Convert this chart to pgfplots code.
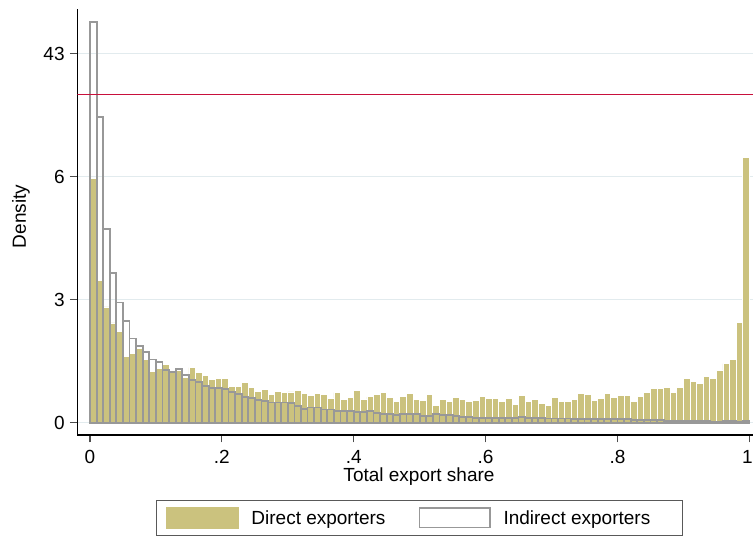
\documentclass[border=0pt]{standalone}
\usepackage{fontspec}
\setmainfont{Liberation Sans}
\usepackage{pgfplots}
\usepackage{pgfplotstable}
\pgfplotsset{compat=1.18}
\definecolor{direct}{RGB}{203,194,126}
\definecolor{indirect}{RGB}{152,152,152}
\definecolor{redline}{RGB}{200,16,60}
\definecolor{gridc}{RGB}{226,235,238}
% bins of width 0.01; values above 8 are on a compressed scale (tick 9 = 43)
\pgfplotstableread{
x d i
0.00 5.96 9.77
0.01 3.46 7.45
0.02 2.82 4.72
0.03 2.43 3.64
0.04 2.23 2.93
0.05 1.61 2.47
0.06 1.68 2.05
0.07 1.80 1.86
0.08 1.55 1.73
0.09 1.24 1.54
0.10 1.33 1.47
0.11 1.41 1.29
0.12 1.23 1.23
0.13 1.27 1.30
0.14 1.10 1.17
0.15 1.34 1.04
0.16 1.22 0.99
0.17 1.14 0.89
0.18 1.05 0.84
0.19 1.07 0.84
0.20 1.07 0.82
0.21 0.88 0.74
0.22 0.88 0.69
0.23 0.97 0.63
0.24 0.85 0.60
0.25 0.76 0.56
0.26 0.80 0.52
0.27 0.68 0.49
0.28 0.76 0.49
0.29 0.73 0.49
0.30 0.75 0.48
0.31 0.78 0.40
0.32 0.71 0.33
0.33 0.66 0.37
0.34 0.71 0.37
0.35 0.68 0.32
0.36 0.58 0.32
0.37 0.73 0.28
0.38 0.56 0.28
0.39 0.61 0.28
0.40 0.78 0.26
0.41 0.56 0.26
0.42 0.63 0.28
0.43 0.68 0.24
0.44 0.73 0.21
0.45 0.61 0.21
0.46 0.51 0.19
0.47 0.63 0.22
0.48 0.71 0.22
0.49 0.56 0.22
0.50 0.54 0.17
0.51 0.68 0.17
0.52 0.41 0.21
0.53 0.56 0.19
0.54 0.51 0.19
0.55 0.61 0.17
0.56 0.56 0.14
0.57 0.51 0.13
0.58 0.54 0.12
0.59 0.63 0.12
0.60 0.58 0.12
0.61 0.58 0.12
0.62 0.51 0.12
0.63 0.58 0.11
0.64 0.44 0.11
0.65 0.66 0.13
0.66 0.51 0.11
0.67 0.56 0.11
0.68 0.46 0.12
0.69 0.41 0.10
0.70 0.61 0.10
0.71 0.51 0.10
0.72 0.51 0.10
0.73 0.56 0.09
0.74 0.71 0.08
0.75 0.68 0.08
0.76 0.54 0.08
0.77 0.58 0.08
0.78 0.71 0.08
0.79 0.61 0.08
0.80 0.66 0.08
0.81 0.66 0.08
0.82 0.51 0.07
0.83 0.63 0.07
0.84 0.73 0.07
0.85 0.83 0.07
0.86 0.83 0.07
0.87 0.85 0.05
0.88 0.73 0.05
0.89 0.85 0.04
0.90 1.07 0.05
0.91 1.00 0.04
0.92 0.95 0.04
0.93 1.12 0.04
0.94 1.07 0.03
0.95 1.27 0.03
0.96 1.44 0.04
0.97 1.53 0.04
0.98 2.44 0.03
0.99 6.46 0.05
1.00 6.46 0.05
}\hist
\begin{document}
\begin{tikzpicture}
\path[use as bounding box] (-77.3pt,-102pt) rectangle (675.7pt,435pt);
\begin{axis}[
  at={(0pt,0pt)}, anchor=south west,
  scale only axis, width=675.7pt, height=426pt,
  xmin=-0.0193, xmax=1.0056, ymin=-0.30, ymax=10.08,
  axis x line=bottom, axis y line=left,
  axis line style={-, black, line width=1.2pt},
  xtick={0,0.2,0.4,0.6,0.8,1}, xticklabels={0,.2,.4,.6,.8,\makebox[0pt]{1\hspace*{4pt}}},
  ytick={0,3,6,9}, yticklabels={0,3,6,43},
  tick align=outside, major tick length=7.5pt,
  tick style={black!70, line width=1.2pt},
  ymajorgrids, grid style={gridc, line width=1.2pt},
  ticklabel style={font=\fontsize{19}{22}\selectfont, inner sep=0pt, text height=13.6pt, text depth=0pt},
  xticklabel style={yshift=-7pt},
  yticklabel style={xshift=-5pt},
  xlabel={Total export share}, ylabel={Density},
  label style={font=\fontsize{19}{22}\selectfont, inner sep=0pt},
  xlabel style={at={(axis description cs:0.5057,-0.11)}, anchor=base},
  ylabel style={at={(axis description cs:-0.0833,0.513)}, anchor=center},
  legend columns=2,
  legend style={at={(axis description cs:0.5064,-0.1526)}, anchor=north,
    draw=black!65, line width=0.8pt, inner xsep=9pt, inner ysep=6.5pt,
    font=\fontsize{19}{22}\selectfont,
    nodes={inner sep=0pt, text height=13.6pt, text depth=0pt},
    /tikz/every odd column/.append style={column sep=13pt},
    /tikz/every even column/.append style={column sep=33pt}},
]
\addplot[ybar interval, fill=direct, draw=white, line width=0.8pt,
  legend image code/.code={\fill[direct] (0pt,-10.5pt) rectangle (72pt,10.5pt);}]
  table[x=x, y=d] {\hist};
\addlegendentry{Direct exporters}
\addplot[ybar interval, fill=none, draw=indirect, line width=1.8pt,
  legend image code/.code={\draw[fill=white, draw=indirect, line width=1.2pt] (0.6pt,-9.9pt) rectangle (71.4pt,9.9pt);}]
  table[x=x, y=i] {\hist};
\addlegendentry{Indirect exporters\hspace*{23pt}}
\addplot[forget plot, redline, line width=1.3pt] coordinates {(-0.0193,8) (1.0056,8)};
\end{axis}
\end{tikzpicture}
\end{document}
